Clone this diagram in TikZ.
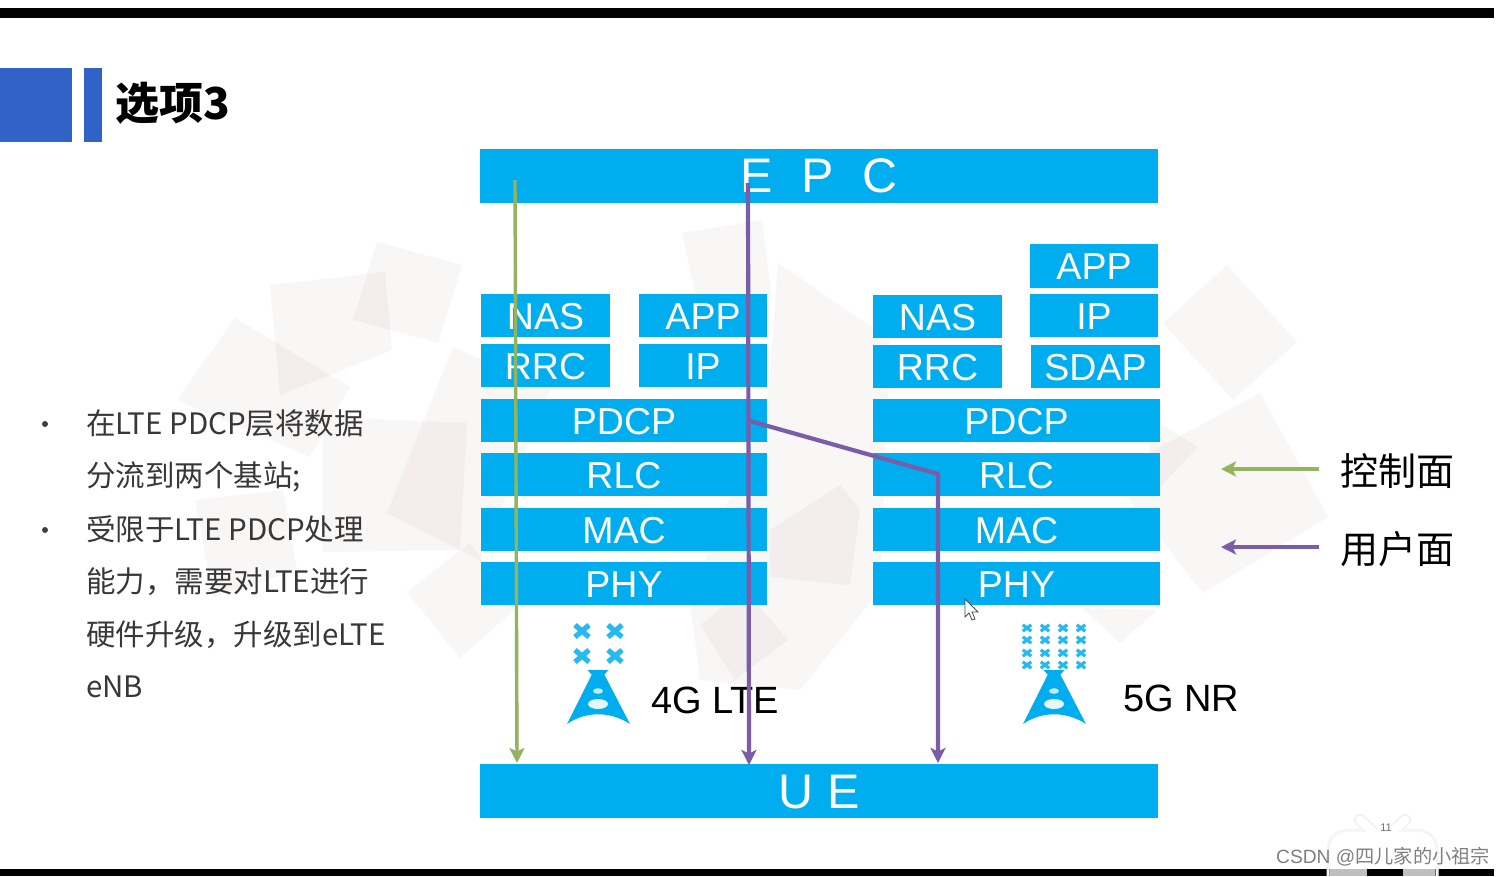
\documentclass[tikz,border=0pt]{standalone}
\usepackage{fontspec}
\setmainfont{Liberation Sans}
\newfontfamily\cjk{Noto Sans CJK SC}
\usetikzlibrary{arrows.meta}
\definecolor{skyb}{HTML}{00AEEF}
\definecolor{titleb}{HTML}{3062C8}
\definecolor{grn}{HTML}{93B35C}
\definecolor{pur}{HTML}{7B5CA8}
\definecolor{bgp}{HTML}{A87878}
\newcommand{\fsz}[1]{\fontsize{#1}{#1}\selectfont}
\newcommand{\lay}[6]{\node[layer,minimum width={#4-#2},minimum height={#5-#3}] (#1) at ({(#2+#4)/2},{(#3+#5)/2}) {#6};}
\newcommand{\xm}[2]{\draw[crossmark,line width=3.2pt] (#1-4.2,#2-3.2) -- (#1+4.2,#2+3.2) (#1-4.2,#2+3.2) -- (#1+4.2,#2-3.2);}
\newcommand{\bigx}[2]{\draw[crossmark,line width=5.2pt] (#1-7,#2-6) -- (#1+7,#2+6) (#1-7,#2+6) -- (#1+7,#2-6);}
\newcommand{\tower}[2]{%
  \fill[skyb] (#1-5,#2-52) -- (#1+5,#2-52) -- (#1+32,#2) .. controls (#1+12,#2-13) and (#1-12,#2-13) .. (#1-31,#2) -- cycle;
  \fill[skyb] (#1-10.5,#2-54) -- (#1+10.5,#2-54) -- (#1+6,#2-49) -- (#1-6,#2-49) -- cycle;
  \fill[white!75!skyb] (#1,#2-33) ellipse (5 and 2.8);
  \fill[white!90!skyb] (#1,#2-20) ellipse (10 and 5);}
\tikzset{
  layer/.style={fill=skyb,inner sep=0pt,text=white,font=\fsz{37.5},text height=27pt,text depth=0pt},
  bigbar/.style={layer,font=\fsz{48.5},text height=35pt},
  crossmark/.style={draw=skyb!85!white},
  bgshape/.style={fill=bgp,fill opacity=0.065,draw=none},
  ctl/.style={draw=grn,line width=3.4pt,-{Stealth[length=15pt,width=15pt,inset=3.5pt]}},
  usr/.style={draw=pur,line width=4.2pt,line join=round,-{Stealth[length=15pt,width=15pt,inset=3.5pt]}},
  txt/.style={anchor=west,inner sep=0pt,text=black!78,font=\cjk\fsz{29.5}},
  dot/.style={circle,fill=black!75,inner sep=0pt,minimum size=6pt},
  legend/.style={anchor=west,inner sep=0pt,text=black,font=\cjk\fsz{38}},
  site/.style={anchor=west,inner sep=0pt,text=black,font=\fsz{38}}
}
\begin{document}
\begin{tikzpicture}[x=1pt,y=-1pt]
\useasboundingbox (0,0) rectangle (1504,876);
\fill[white] (0,0) rectangle (1504,876);
% bars
\fill[black] (0,8) rectangle (1494,18);
\fill[black] (0,869) rectangle (1494,876);
% backdrop
\fill[bgshape] (270,285) -- (385,272) -- (392,350) -- (280,395) -- cycle;
\fill[bgshape] (377,242) -- (462,265) -- (438,343) -- (353,320) -- cycle;
\fill[bgshape] (235,318) -- (350,387) -- (310,457) -- (177,400) -- cycle;
\fill[bgshape] (323,417) -- (467,423) -- (460,550) -- (323,552) -- cycle;
\fill[bgshape] (453,347) -- (550,390) -- (480,560) -- (387,513) -- cycle;
\fill[bgshape] (195,500) -- (283,490) -- (297,570) -- (213,597) -- cycle;
\fill[bgshape] (407,592) -- (470,543) -- (517,607) -- (460,658) -- cycle;
\fill[bgshape] (682,233) -- (762,220) -- (772,300) -- (700,315) -- cycle;
\fill[bgshape] (778,263) -- (890,340) -- (880,590) -- (800,690) -- (700,680) -- (690,600) -- (768,400) -- cycle;
\fill[bgshape] (840,485) -- (860,510) -- (850,585) -- (770,577) -- (770,530) -- cycle;
\fill[bgshape] (700,625) -- (745,590) -- (788,640) -- (735,680) -- cycle;
\fill[bgshape] (1163,323) -- (1227,265) -- (1297,342) -- (1233,400) -- cycle;
\fill[bgshape] (1100,480) -- (1260,393) -- (1328,517) -- (1203,593) -- (1130,500) -- cycle;
\fill[bgshape] (1150,417) -- (1198,447) -- (1150,497) -- cycle;
\fill[bgshape] (1082,608) -- (1157,610) -- (1120,643) -- cycle;
% title block
\fill[titleb] (0,68) rectangle (72,142);
\fill[titleb] (84,68) rectangle (102,142);
\node[anchor=west,inner sep=0pt,font={\cjk\bfseries\fsz{44}}] (title) at (115,103) {选项3};
% left text
\node[dot] (b1) at (45,424) {};
\node[dot] (b2) at (45,530) {};
\node[txt] (t1) at (86,423) {在LTE PDCP层将数据};
\node[txt] (t2) at (86,477) {分流到两个基站;};
\node[txt] (t3) at (86,529) {受限于LTE PDCP处理};
\node[txt] (t4) at (86,582) {能力，需要对LTE进行};
\node[txt] (t5) at (86,635) {硬件升级，升级到eLTE};
\node[txt] (t6) at (86,687) {eNB};
% layers
\node[bigbar,text height=33pt,minimum width=678,minimum height=54] (epc) at (819,176) {E\hspace{.6em}P\hspace{.6em}C};
\node[bigbar,minimum width=678,minimum height=54] (ue) at (819,791) {U\hspace{.3em}E};
\lay{nasl}{481}{294}{610}{337}{NAS}
\lay{rrcl}{481}{344}{610}{387}{RRC}
\lay{appl}{639}{294}{767}{337}{APP}
\lay{ipl}{639}{344}{767}{387}{IP}
\lay{pdcpl}{481}{399}{767}{442}{PDCP}
\lay{rlcl}{481}{453}{767}{496}{RLC}
\lay{macl}{481}{508}{767}{551}{MAC}
\lay{phyl}{481}{562}{767}{605}{PHY}
\lay{nasr}{873}{295}{1002}{338}{NAS}
\lay{rrcr}{873}{345}{1002}{388}{RRC}
\lay{appr}{1030}{244}{1158}{288}{APP}
\lay{ipr}{1030}{294}{1158}{337}{IP}
\lay{sdap}{1031}{345}{1160}{388}{SDAP}
\lay{pdcpr}{873}{399}{1160}{442}{PDCP}
\lay{rlcr}{873}{453}{1160}{496}{RLC}
\lay{macr}{873}{508}{1160}{551}{MAC}
\lay{phyr}{873}{562}{1160}{605}{PHY}
% antennas
\bigx{582}{631}\bigx{615}{631}\bigx{582}{656}\bigx{615}{656}
\tower{598}{724}
\foreach \cx in {1027,1045,1063,1081}{\foreach \cy in {628,640,653,665}{\xm{\cx}{\cy}}}
\tower{1054}{724}
\node[site] (lte) at (651,700) {4G LTE};
\node[site] (nr) at (1123,698) {5G NR};
% connectors
\coordinate (gs) at (515,180);
\coordinate (ge) at (517,763);
\coordinate (ps) at (748,183);
\coordinate (pe) at (749,765);
\coordinate (bs) at (750,421);
\coordinate (bk) at (938,474);
\coordinate (be) at (938,763);
\draw[ctl] (gs) -- (ge);
\draw[usr] (ps) -- (pe);
\draw[usr] (bs) -- (bk) -- (be);
% legend
\node[legend] (lc) at (1340,471) {控制面};
\node[legend] (lu) at (1340,549) {用户面};
\coordinate (lcs) at (1319,469);
\coordinate (lce) at (1221,469);
\coordinate (lus) at (1319,547);
\coordinate (lue) at (1221,547);
\draw[ctl] (lcs) -- (lce);
\draw[usr] (lus) -- (lue);
% cursor
\draw[black!70,fill=white,line width=0.8pt] (965,599) -- (965,617) -- (969,613) -- (972,620) -- (975,619) -- (972,612) -- (978,612) -- cycle;
% page badge and watermark
\draw[black!6,line width=12pt,line cap=round] (1360,820) -- (1375,834) (1405,820) -- (1390,834);
\draw[black!4,line width=3pt] (1328,876) -- (1328,850) .. controls (1328,836) and (1338,830) .. (1350,830) -- (1415,830) .. controls (1427,830) and (1437,836) .. (1437,850) -- (1437,876);
\draw[white,line width=9pt,line cap=round] (1360,820) -- (1375,834) (1405,820) -- (1390,834);
\fill[white] (1330,876) -- (1330,850) .. controls (1330,838) and (1338,832) .. (1350,832) -- (1415,832) .. controls (1427,832) and (1435,838) .. (1435,850) -- (1435,876) -- cycle;
\fill[black!25] (1330,869) rectangle (1367,876);
\fill[black] (1367,869) rectangle (1403,876);
\fill[black!25] (1403,869) rectangle (1435,876);
\node[inner sep=0pt,text=black!55,font=\fsz{11}] (pg) at (1386,828) {11};
\node[anchor=east,inner sep=0pt,text=black!50,font=\fsz{19.2}] (wm) at (1490,857) {CSDN @{\cjk 四儿家的小祖宗}};
\end{tikzpicture}
\end{document}
